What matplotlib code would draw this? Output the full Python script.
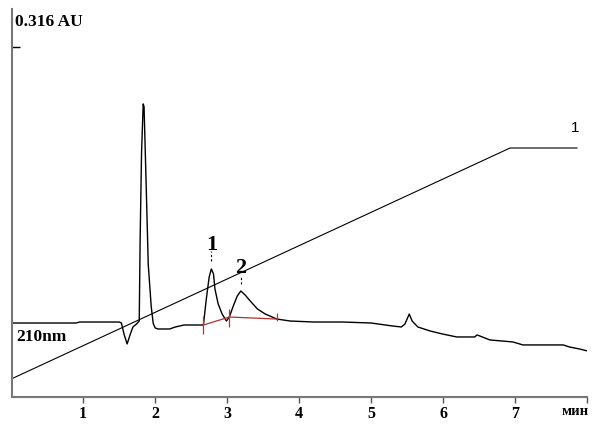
import matplotlib
matplotlib.use("Agg")
import matplotlib.pyplot as plt

# Chromatogram trace (time, min ; signal, mAU)
time_min = [0.00, 0.90, 0.95, 1.50, 1.53, 1.57, 1.61, 1.65, 1.69, 1.74, 1.778,
            1.79, 1.81, 1.833, 1.845, 1.875, 1.903, 1.944, 1.972, 2.00, 2.04,
            2.20, 2.28, 2.40, 2.60, 2.67, 2.71, 2.75, 2.78, 2.81, 2.83, 2.875,
            2.93, 2.99, 3.03, 3.08, 3.14, 3.19, 3.25, 3.32, 3.42, 3.53, 3.69,
            3.875, 4.20, 4.60, 5.00, 5.30, 5.42, 5.47, 5.50, 5.53, 5.57, 5.65,
            5.82, 5.99, 6.19, 6.44, 6.47, 6.51, 6.65, 6.97, 7.11, 7.67, 7.76,
            7.90, 8.01]
signal_mau = [66.8, 66.8, 67.7, 67.7, 66.8, 56.0, 47.9, 56.0, 63.2, 65.9, 68.6,
              140.0, 220.0, 264.6, 262.0, 190.0, 120.0, 82.0, 66.5, 62.3, 61.4,
              61.4, 63.2, 65.0, 65.0, 65.0, 88.5, 108.4, 115.6, 111.1, 97.5, 84.0,
              74.9, 68.6, 72.2, 81.3, 91.2, 95.7, 92.1, 86.7, 79.5, 74.9, 70.4,
              68.6, 67.7, 67.7, 66.8, 64.1, 63.2, 65.9, 70.4, 74.9, 68.6, 63.2,
              59.6, 56.9, 54.2, 54.2, 56.0, 55.1, 51.5, 49.7, 47.0, 47.0, 45.1,
              43.3, 41.5]

# Gradient profile line
grad_time = [0.0, 6.93, 7.86]
grad_level = [16.3, 224.8, 224.8]

# Integration baseline (red) and its markers
base_time = [2.67, 3.03, 3.69]
base_level = [65.0, 72.2, 70.4]
mark_lo = [56.9, 63.2, 69.0]
mark_hi = [73.1, 79.5, 76.0]

# Peak labels
peak_names = ["1", "2"]
peak_time = [2.78, 3.19]
peak_label_y = [138.0, 117.4]
peak_dash_lo = [122.8, 102.0]
peak_dash_hi = [131.8, 108.0]

xticks = [1, 2, 3, 4, 5, 6, 7, 8]
xticklabels = ["1", "2", "3", "4", "5", "6", "7", ""]
x_unit = "мин"
ytick_val = 316

W, H = 596, 435
fig = plt.figure(figsize=(W / 100, H / 100), dpi=100)
ax = fig.add_axes([12 / W, (H - 398) / H, (587 - 12) / W, (398 - 10) / H])

serif = "Liberation Serif"

ax.plot(grad_time, grad_level, color="black", lw=0.8)
ax.plot(time_min, signal_mau, color="black", lw=1.0)
ax.plot(base_time, base_level, color="#b03030", lw=0.9)
ax.vlines(base_time, mark_lo, mark_hi, color="#c03030", lw=0.9)

for n, t, ly, dlo, dhi in zip(peak_names, peak_time, peak_label_y, peak_dash_lo, peak_dash_hi):
    ax.text(t, ly, n, ha="center", va="center", fontsize=16, fontweight="bold", family=serif)
    ax.vlines(t, dlo, dhi, color="black", lw=0.8, linestyles=(0, (2, 2)))

ax.set_xlim(0.01, 8.0)
ax.set_ylim(0, 350.3)

for s in ["top", "right"]:
    ax.spines[s].set_visible(False)
for s in ["left", "bottom"]:
    ax.spines[s].set_color("#777777")
    ax.spines[s].set_linewidth(1.5)

ax.set_xticks(xticks)
ax.set_xticklabels(xticklabels, fontsize=11.5, fontweight="bold", family=serif)
ax.tick_params(axis="x", direction="out", length=4, width=1, color="#555555", pad=1.5)
ax.set_yticks([ytick_val])
ax.set_yticklabels([""])
ax.tick_params(axis="y", direction="in", length=6, width=1, color="black")

# unit label at the end of the time axis
ax.text(7.84, -12.5, x_unit, ha="center", va="center", fontsize=10.5,
        fontweight="bold", family=serif, clip_on=False)

ax.text(0.055, 339.5, "0.316 AU", ha="left", va="center", fontsize=12.5,
        fontweight="bold", family=serif)
ax.text(0.07, 55.1, "210nm", ha="left", va="center", fontsize=12.5,
        fontweight="bold", family=serif)
ax.text(7.83, 243.8, "1", ha="center", va="center", fontsize=11, family="Liberation Sans")

fig.savefig("out.png", dpi=100)
